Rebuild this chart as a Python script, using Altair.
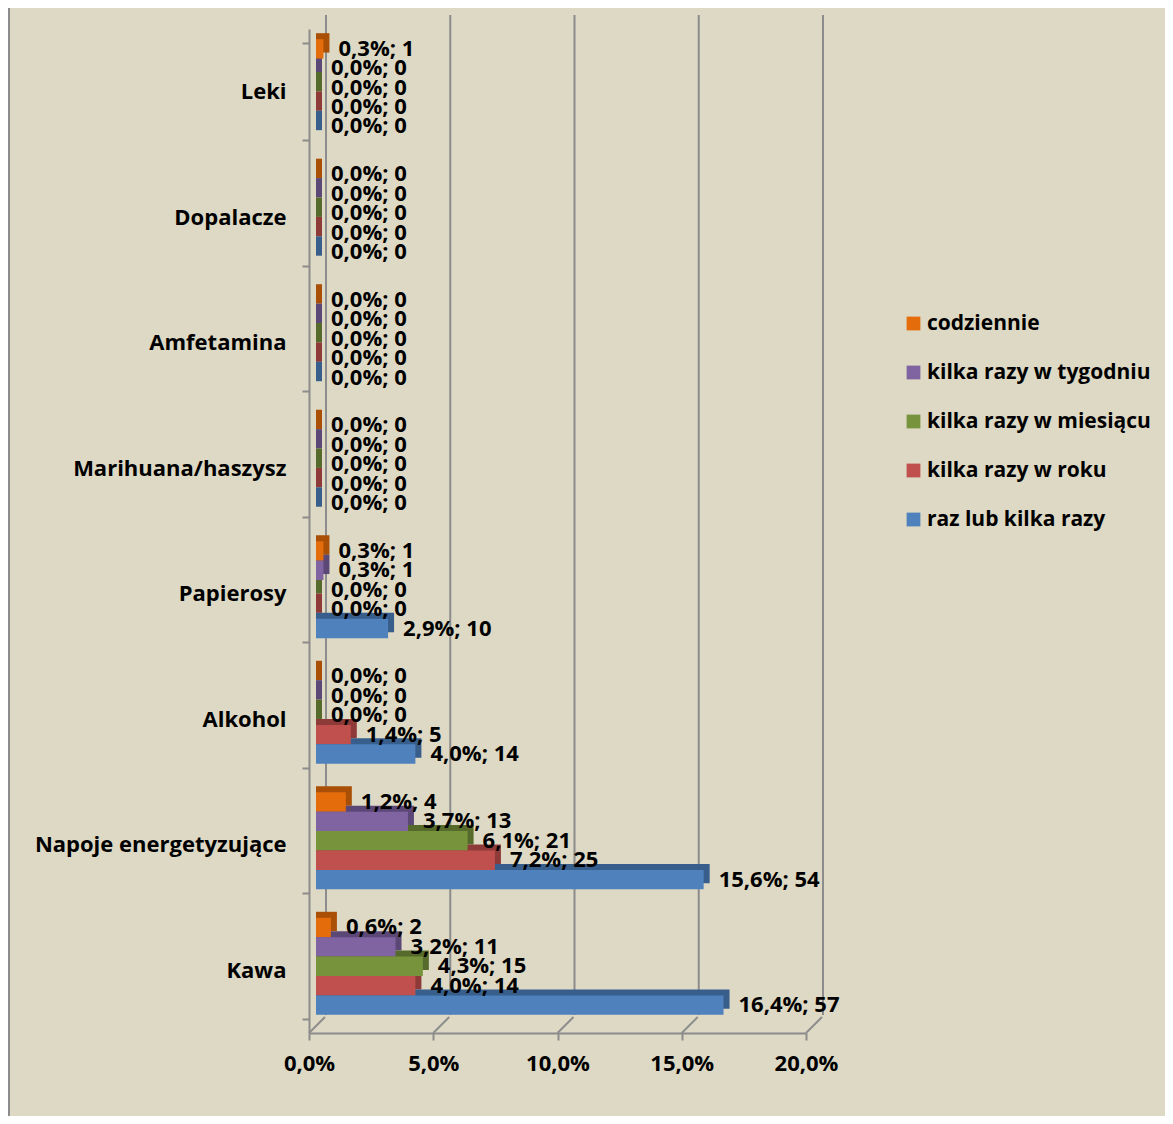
import altair as alt
import pandas as pd

categories = ["Leki", "Dopalacze", "Amfetamina", "Marihuana/haszysz", "Papierosy",
              "Alkohol", "Napoje energetyzujące", "Kawa"]
series = ["codziennie", "kilka razy w tygodniu", "kilka razy w miesiącu",
          "kilka razy w roku", "raz lub kilka razy"]
colors = ["#E46C0A", "#8064A2", "#77933C", "#C0504D", "#4F81BD"]
side_colors = ["#A94F06", "#5C4877", "#566B2B", "#8E3A38", "#385E8B"]

pct_codziennie = [0.3, 0.0, 0.0, 0.0, 0.3, 0.0, 1.2, 0.6]
n_codziennie = [1, 0, 0, 0, 1, 0, 4, 2]
pct_tygodniu = [0.0, 0.0, 0.0, 0.0, 0.3, 0.0, 3.7, 3.2]
n_tygodniu = [0, 0, 0, 0, 1, 0, 13, 11]
pct_miesiacu = [0.0, 0.0, 0.0, 0.0, 0.0, 0.0, 6.1, 4.3]
n_miesiacu = [0, 0, 0, 0, 0, 0, 21, 15]
pct_roku = [0.0, 0.0, 0.0, 0.0, 0.0, 1.4, 7.2, 4.0]
n_roku = [0, 0, 0, 0, 0, 5, 25, 14]
pct_raz = [0.0, 0.0, 0.0, 0.0, 2.9, 4.0, 15.6, 16.4]
n_raz = [0, 0, 0, 0, 10, 14, 54, 57]

x_ticks = [0, 5, 10, 15, 20]

pcts = [pct_codziennie, pct_tygodniu, pct_miesiacu, pct_roku, pct_raz]
ns = [n_codziennie, n_tygodniu, n_miesiacu, n_roku, n_raz]

rows = []
for si, s in enumerate(series):
    for ci, c in enumerate(categories):
        rows.append({"cat": c, "series": s, "pct": pcts[si][ci], "n": ns[si][ci],
                     "side": side_colors[si]})
df = pd.DataFrame(rows)
df["label"] = df.apply(lambda r: f"{r['pct']:.1f}".replace(".", ",") + "%; " + str(r["n"]), axis=1)

grid_df = pd.DataFrame({"v": x_ticks})

FONT = "Open Sans"
FS = 22
GRAY = "#8C8C8C"

xscale = alt.Scale(domain=[0, 20], nice=False, zero=True)
yenc = alt.Y("cat:N", sort=categories,
             scale=alt.Scale(paddingInner=0.227, paddingOuter=0.113),
             axis=alt.Axis(title=None, labelFont=FONT, labelFontSize=FS, labelFontWeight="bold",
                           labelColor="#000000", labelPadding=16, labelLimit=400,
                           domainColor=GRAY, domainWidth=2, tickColor=GRAY, tickWidth=2,
                           tickSize=7, tickBand="extent"))
yoff_front = alt.YOffset("series:N", sort=series,
                         scale=alt.Scale(range=[-4, 93], paddingInner=0, paddingOuter=0))
yoff_side = alt.YOffset("series:N", sort=series,
                        scale=alt.Scale(range=[-10, 87], paddingInner=0, paddingOuter=0))

base = alt.Chart(df)

grid = alt.Chart(grid_df).mark_rule(color=GRAY, strokeWidth=2, xOffset=17).encode(
    x=alt.X("v:Q", scale=xscale),
    y=alt.value(-14), y2=alt.value(986))

floor = alt.Chart(grid_df).mark_rule(color=GRAY, strokeWidth=2, x2Offset=16).encode(
    x=alt.X("v:Q", scale=xscale), x2="v:Q",
    y=alt.value(1004), y2=alt.value(988))

side = base.mark_bar(xOffset=13, x2Offset=7).encode(
    x=alt.X("pct:Q", scale=xscale), x2=alt.datum(0),
    y=yenc, yOffset=yoff_side,
    color=alt.Color("side:N", scale=None))

front = base.mark_bar(xOffset=7, x2Offset=7).encode(
    x=alt.X("pct:Q", scale=xscale,
            axis=alt.Axis(title=None, values=x_ticks, grid=False, labelFlush=False,
                          labelExpr="replace(format(datum.value, '.1f'), '.', ',') + '%'",
                          labelFont=FONT, labelFontSize=FS, labelFontWeight="bold",
                          labelColor="#000000", labelPadding=13, domainColor=GRAY,
                          domainWidth=2, tickColor=GRAY, tickWidth=2, tickSize=7)),
    x2=alt.datum(0),
    y=yenc, yOffset=yoff_front,
    color=alt.Color("series:N", sort=series,
                    scale=alt.Scale(domain=series, range=colors),
                    legend=alt.Legend(title=None, orient="none", legendX=594, legendY=284,
                                      symbolType="square", symbolSize=190, symbolStrokeWidth=0,
                                      labelFont=FONT, labelFontSize=21, labelFontWeight="bold",
                                      labelColor="#000000", labelOffset=3, rowPadding=27,
                                      labelLimit=400)))

labels = base.mark_text(align="left", baseline="middle", dx=22, dy=0, font=FONT,
                        fontSize=FS, fontWeight="bold", color="#000000").encode(
    x=alt.X("pct:Q", scale=xscale),
    y=yenc, yOffset=yoff_front,
    text="label:N")

front_layer = alt.layer(front, labels)

frame = alt.Chart(grid_df).mark_rule(color=GRAY, strokeWidth=2).encode(
    x=alt.value(-300), y=alt.value(-40), y2=alt.value(1100))

chart = alt.layer(frame, grid, floor, side, front_layer).resolve_scale(
    yOffset="independent"
).properties(
    width=497, height=1004,
    autosize=alt.AutoSizeParams(type="none"),
    padding={"left": 301, "top": 21, "right": 359, "bottom": 83},
    background="#DDD9C4",
).configure_view(stroke=None)

chart.save("out.html", embed_options={"renderer": "svg", "actions": False})
